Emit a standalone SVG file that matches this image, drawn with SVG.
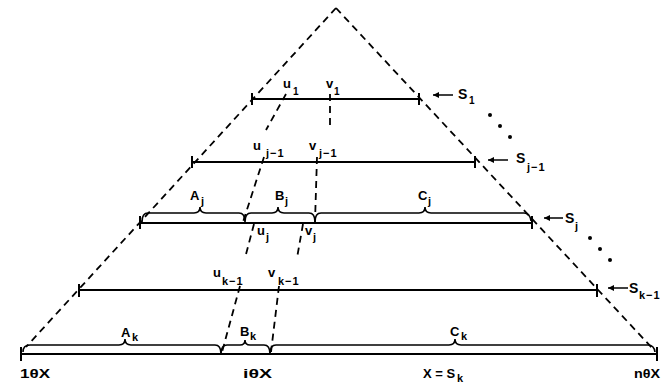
<svg xmlns="http://www.w3.org/2000/svg" width="665" height="383" viewBox="0 0 665 383">
<defs>
<marker id="ah" viewBox="0 0 10 10" refX="0" refY="5" markerWidth="7" markerHeight="6" orient="auto" markerUnits="userSpaceOnUse">
<path d="M0,5 L10,0 L10,10 Z" fill="#000"/>
</marker>
<style>
.ln{stroke:#000;stroke-width:2;fill:none}
.tk{stroke:#000;stroke-width:2}
.br{stroke:#000;stroke-width:1.6;fill:none}
.ds{stroke:#000;stroke-width:1.8;fill:none;stroke-dasharray:7 5}
.ar{stroke:#000;stroke-width:1.5;marker-start:url(#ah)}
text{font-family:"Liberation Sans",Arial,sans-serif;font-weight:bold;fill:#000}
.t{font-size:13px}
.s{font-size:10px}
.b{font-size:14px}
.sb{font-size:11px}
</style>
</defs>
<rect width="665" height="383" fill="#fff"/>

<g id="triangle">
<path class="ds" d="M336,8 L26,347"/>
<path class="ds" d="M336,8 L653,349"/>
</g>

<g id="S1">
<line class="ln" x1="252" y1="99" x2="419" y2="99"/>
<line class="tk" x1="252" y1="93" x2="252" y2="105"/>
<line class="tk" x1="419" y1="93" x2="419" y2="105"/>
<line class="ar" x1="433" y1="95" x2="453" y2="95"/>
<text class="b" x="458" y="99">S</text><text class="s" x="469" y="104">1</text>
<text class="t" x="283" y="88">u</text><text class="s" x="293" y="95">1</text>
<text class="t" x="326" y="88">v</text><text class="s" x="334" y="95">1</text>
</g>

<g id="Sj-1">
<line class="ln" x1="192" y1="162" x2="475" y2="162"/>
<line class="tk" x1="192" y1="156" x2="192" y2="168"/>
<line class="tk" x1="475" y1="156" x2="475" y2="168"/>
<line class="ar" x1="488" y1="160" x2="508" y2="160"/>
<text class="b" x="516" y="163">S</text><text class="sb" x="527" y="171" letter-spacing="1">j−1</text>
<text class="t" x="253" y="150">u</text><text class="sb" x="266" y="157" letter-spacing="1">j−1</text>
<text class="t" x="309" y="150">v</text><text class="sb" x="319" y="157" letter-spacing="1">j−1</text>
</g>

<g id="Sj">
<line class="ln" x1="140" y1="223" x2="532" y2="223"/>
<line class="tk" x1="140" y1="216" x2="140" y2="229"/>
<line class="tk" x1="532" y1="216" x2="532" y2="229"/>
<path class="br" d="M142,222 Q142,213 148,213 L194,213 Q200,213 200,207 Q200,213 206,213 L239,213 Q245,213 245,222 Q245,213 251,213 L272,213 Q278,213 278,207 Q278,213 284,213 L309,213 Q315,213 315,222 Q315,213 321,213 L419,213 Q425,213 425,207 Q425,213 431,213 L524,213 Q530,213 531,221"/>
<line class="ar" x1="544" y1="218" x2="563" y2="218"/>
<text class="b" x="565" y="223">S</text><text class="sb" x="575" y="230">j</text>
<text class="t" x="190" y="200">A</text><text class="sb" x="201" y="205">j</text>
<text class="t" x="275" y="200">B</text><text class="sb" x="285" y="205">j</text>
<text class="t" x="418" y="200">C</text><text class="sb" x="428" y="205">j</text>
<text class="t" x="257" y="235">u</text><text class="sb" x="266" y="241">j</text>
<text class="t" x="305" y="235">v</text><text class="sb" x="313" y="241">j</text>
</g>

<g id="Sk-1">
<line class="ln" x1="79" y1="290" x2="597" y2="290"/>
<line class="tk" x1="79" y1="284" x2="79" y2="297"/>
<line class="tk" x1="597" y1="284" x2="597" y2="297"/>
<line class="ar" x1="608" y1="288" x2="628" y2="288"/>
<text class="b" x="629" y="293">S</text><text class="sb" x="639" y="299" letter-spacing="1">k−1</text>
<text class="t" x="213" y="277">u</text><text class="sb" x="222" y="285" letter-spacing="1">k−1</text>
<text class="t" x="268" y="277">v</text><text class="sb" x="278" y="285" letter-spacing="1">k−1</text>
</g>

<g id="Sk">
<line class="ln" x1="21" y1="354" x2="657" y2="354"/>
<line class="tk" x1="21" y1="347" x2="21" y2="361"/>
<line class="tk" x1="657" y1="347" x2="657" y2="361"/>
<path class="br" d="M23,352 Q23,345 30,345 L119,345 Q125,345 125,339 Q125,345 131,345 L215,345 Q221,345 221,354 Q221,345 227,345 L240,345 Q245,345 245,340 Q245,345 250,345 L264,345 Q270,345 270,354 Q270,345 276,345 L449,345 Q455,345 455,339 Q455,345 461,345 L648,345 Q654,345 655,352"/>
<text class="t" x="121" y="337">A</text><text class="sb" x="132" y="341">k</text>
<text class="t" x="240" y="336">B</text><text class="sb" x="250" y="340">k</text>
<text class="t" x="450" y="336">C</text><text class="sb" x="461" y="340">k</text>
<text class="t" x="20" y="378" textLength="30" lengthAdjust="spacingAndGlyphs">1θX</text>
<text class="t" x="243" y="378" textLength="29" lengthAdjust="spacingAndGlyphs">iθX</text>
<text class="t" x="423" y="378">X = S</text><text class="sb" x="457" y="382">k</text>
<text class="t" x="634" y="378" textLength="26" lengthAdjust="spacingAndGlyphs">nθX</text>
</g>

<g id="dots">
<circle cx="490" cy="115" r="2"/><circle cx="500" cy="126" r="2"/><circle cx="510" cy="137" r="2"/>
<circle cx="590" cy="238" r="2"/><circle cx="600" cy="249" r="2"/><circle cx="610" cy="260" r="2"/>
</g>

<g id="connectors">
<path class="ds" d="M286,94 L266,130"/>
<path class="ds" d="M330,94 L330,128"/>
<path class="ds" d="M264,157 L243,222"/>
<path class="ds" d="M317,157 L315,222"/>
<path class="ds" d="M254,224 L245,258"/>
<path class="ds" d="M303,224 L297,258"/>
<path class="ds" d="M240,286 L222,352"/>
<path class="ds" d="M279,286 L271,352"/>
</g>
</svg>
